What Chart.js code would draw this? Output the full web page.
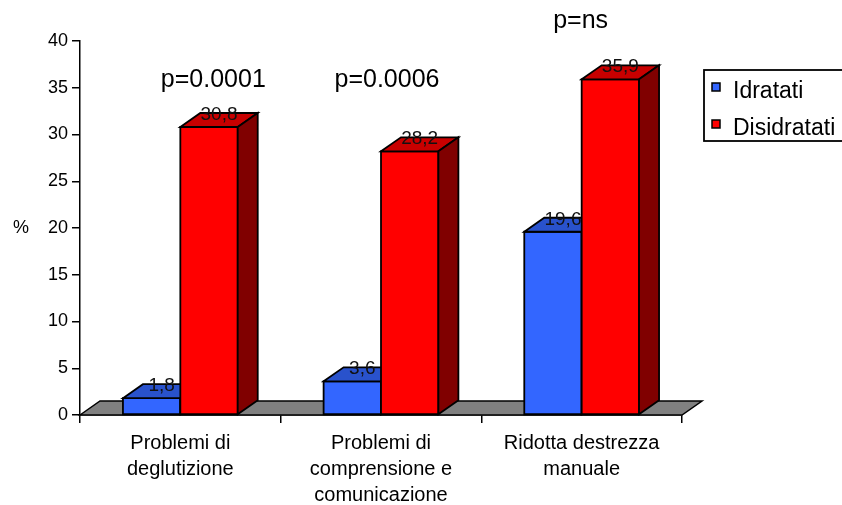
<!DOCTYPE html>
<html>
<head>
<meta charset="utf-8">
<script src="https://cdn.jsdelivr.net/npm/chart.js@4/dist/chart.umd.min.js"></script>
<style>
  html, body { margin: 0; padding: 0; background: #fff; overflow: hidden; }
  #wrap { width: 842px; height: 505px; position: relative; }
</style>
</head>
<body>
<div id="wrap"><canvas id="c" width="842" height="505"></canvas></div>
<script>
// ---- data ----
const categories = [
  ['Problemi di', 'deglutizione'],
  ['Problemi di', 'comprensione e', 'comunicazione'],
  ['Ridotta destrezza', 'manuale']
];
const seriesNames = ['Idratati', 'Disidratati'];
const idratati = [1.8, 3.6, 19.6];
const disidratati = [30.8, 28.2, 35.9];
const pValues = ['p=0.0001', 'p=0.0006', 'p=ns'];
const yAxisTitle = '%';

// ---- look ----
const FONT = '"Liberation Sans", Arial, sans-serif';
const DX = 20, DY = 14;            // 3D depth offset of the bars and the floor
const pLabelPlace = [               // offset from category centre (px), level on value axis
  { dx: 33, v: 35.05 },
  { dx: 6, v: 35.05 },
  { dx: -1, v: 41.36 }
];

function fmt(v) { return v.toFixed(1).replace('.', ','); }

function poly(ctx, pts, fill, lw) {
  ctx.beginPath();
  ctx.moveTo(pts[0][0], pts[0][1]);
  for (let i = 1; i < pts.length; i++) ctx.lineTo(pts[i][0], pts[i][1]);
  ctx.closePath();
  ctx.fillStyle = fill;
  ctx.fill();
  ctx.lineWidth = lw || 1.8;
  ctx.strokeStyle = '#000';
  ctx.lineJoin = 'miter';
  ctx.stroke();
}

// floor, 3D bar faces (front, top, side) and value labels
const bars3d = {
  id: 'bars3d',
  beforeDatasetsDraw(chart) {
    const { ctx, chartArea: a } = chart;
    ctx.save();
    poly(ctx, [[a.left, a.bottom], [a.left + DX, a.bottom - DY], [a.right + DX, a.bottom - DY], [a.right, a.bottom]], '#808080', 1.5);
    ctx.restore();
  },
  afterDatasetsDraw(chart) {
    const ctx = chart.ctx;
    const sets = chart.data.datasets;
    ctx.save();
    // paint per category, left series first so the right one sits in front
    categories.forEach((_, i) => {
      sets.forEach((ds, d) => {
        const bar = chart.getDatasetMeta(d).data[i];
        const { x, y, base, width } = bar.getProps(['x', 'y', 'base', 'width'], true);
        const l = x - width / 2, r = x + width / 2;
        poly(ctx, [[l, y], [r, y], [r, base], [l, base]], ds.backgroundColor);
        poly(ctx, [[l, y], [l + DX, y - DY], [r + DX, y - DY], [r, y]], ds.topColor);
        poly(ctx, [[r, y], [r + DX, y - DY], [r + DX, base - DY], [r, base]], ds.sideColor);
        ctx.font = '19px ' + FONT;
        ctx.textAlign = 'center';
        ctx.textBaseline = 'alphabetic';
        ctx.fillStyle = '#111';
        ctx.fillText(fmt(ds.data[i]), x + DX / 2, y - DY / 2);
      });
    });
    ctx.restore();
  },
  afterDraw(chart) {
    const { ctx, scales: { x, y } } = chart;
    ctx.save();
    // significance notes
    ctx.font = '25px ' + FONT;
    ctx.fillStyle = '#000';
    ctx.textAlign = 'center';
    ctx.textBaseline = 'alphabetic';
    pValues.forEach((t, i) => {
      ctx.fillText(t, x.getPixelForValue(i) + pLabelPlace[i].dx, y.getPixelForValue(pLabelPlace[i].v));
    });
    // value axis title
    ctx.font = '18px ' + FONT;
    ctx.textBaseline = 'middle';
    ctx.fillText(yAxisTitle, 21, y.getPixelForValue(20));
    // legend
    const lx = 704, ly = 70, lh = 71;
    ctx.fillStyle = '#fff';
    ctx.fillRect(lx, ly, 160, lh);
    ctx.lineWidth = 1.8;
    ctx.strokeStyle = '#000';
    ctx.strokeRect(lx, ly, 160, lh);
    const baselines = [98, 135];
    chart.data.datasets.forEach((ds, i) => {
      const sq = baselines[i] - 15;
      ctx.fillStyle = ds.backgroundColor;
      ctx.fillRect(712, sq, 8, 8);
      ctx.lineWidth = 1.5;
      ctx.strokeRect(712, sq, 8, 8);
      ctx.fillStyle = '#000';
      ctx.font = '23px ' + FONT;
      ctx.textAlign = 'left';
      ctx.textBaseline = 'alphabetic';
      ctx.fillText(ds.label, 733, baselines[i]);
    });
    ctx.restore();
  }
};

Chart.defaults.font.family = FONT;
Chart.defaults.color = '#000';

new Chart(document.getElementById('c'), {
  type: 'bar',
  data: {
    labels: categories,
    datasets: [
      { label: seriesNames[0], data: idratati, backgroundColor: '#3366FF', topColor: '#2952CC', sideColor: '#1A3399', borderWidth: 0, clip: false },
      { label: seriesNames[1], data: disidratati, backgroundColor: '#FF0000', topColor: '#C80000', sideColor: '#800000', borderWidth: 0, clip: false }
    ]
  },
  options: {
    responsive: false,
    animation: false,
    devicePixelRatio: 1,
    categoryPercentage: 0.572,
    barPercentage: 1.0,
    layout: { padding: { left: 0, right: 160, top: 41, bottom: 0 } },
    plugins: { legend: { display: false }, tooltip: { enabled: false } },
    scales: {
      x: {
        grid: { offset: true, drawOnChartArea: false, tickLength: 8, color: '#000', lineWidth: 1.5 },
        border: { display: true, color: '#000', width: 1.5 },
        ticks: { font: { size: 20, lineHeight: 1.3 }, color: '#000', padding: 7, maxRotation: 0, autoSkip: false },
        afterFit(s) { s.height = 90; }
      },
      y: {
        min: 0, max: 40,
        grid: { drawOnChartArea: false, tickLength: 8, color: '#000', lineWidth: 1.5 },
        border: { display: true, color: '#000', width: 1.5 },
        ticks: { stepSize: 5, font: { size: 18 }, color: '#000', padding: 4 },
        afterFit(s) { s.width = 80; }
      }
    }
  },
  plugins: [bars3d]
});
</script>
</body>
</html>
